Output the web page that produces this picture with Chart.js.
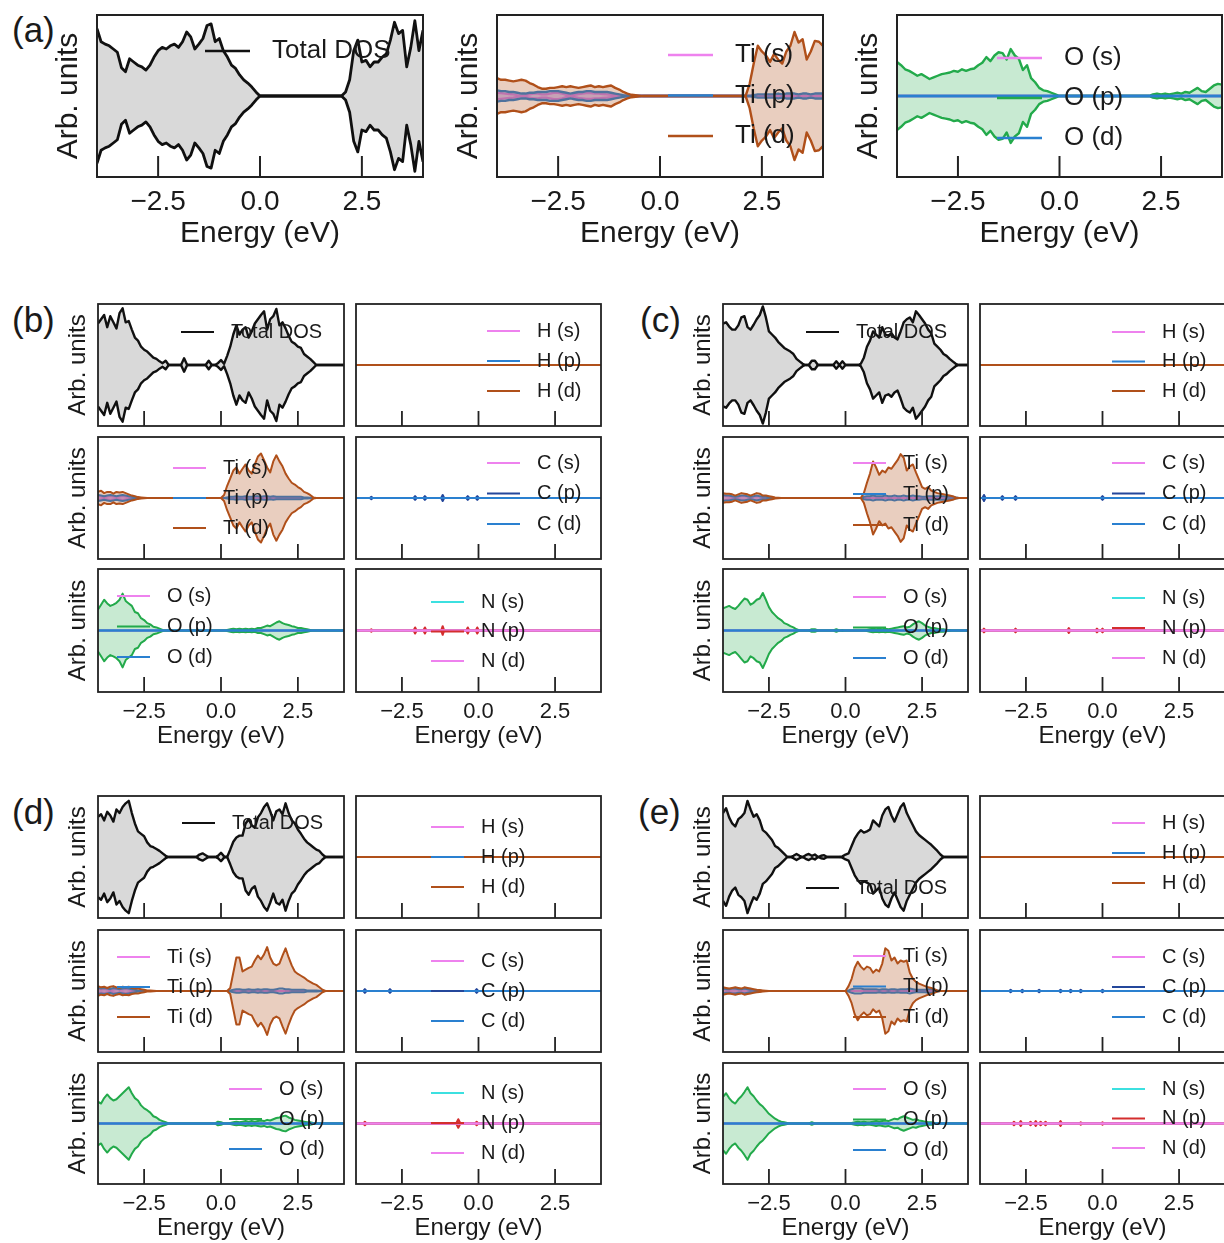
<!DOCTYPE html>
<html>
<head>
<meta charset="utf-8">
<script src="https://cdn.jsdelivr.net/npm/chart.js@4.4.1/dist/chart.umd.min.js"></script>
<style>
  body { margin: 0; width: 1224px; height: 1243px; position: relative; overflow: hidden; background: #fff;
         font-family: "Liberation Sans", Arial, Helvetica, sans-serif; }
  canvas { position: absolute; }
  .tag { position: absolute; font-size: 35px; line-height: 1; color: #1a1a1a; }
</style>
</head>
<body>
<div class="tag" style="left:12px;top:12px">(a)</div>
<div class="tag" style="left:12px;top:302px">(b)</div>
<div class="tag" style="left:640px;top:302px">(c)</div>
<div class="tag" style="left:12px;top:794px">(d)</div>
<div class="tag" style="left:638px;top:794px">(e)</div>
<script>
// ---------------- data (values as a fraction of the half-height of each panel) ----------------
const energy = [-4.0,-3.9,-3.8,-3.7,-3.6,-3.5,-3.4,-3.3,-3.2,-3.1,
  -3.0,-2.9,-2.8,-2.7,-2.6,-2.5,-2.4,-2.3,-2.2,-2.1,
  -2.0,-1.9,-1.8,-1.7,-1.6,-1.5,-1.4,-1.3,-1.2,-1.1,
  -1.0,-0.9,-0.8,-0.7,-0.6,-0.5,-0.4,-0.3,-0.2,-0.1,
  0.0,0.1,0.2,0.3,0.4,0.5,0.6,0.7,0.8,0.9,
  1.0,1.1,1.2,1.3,1.4,1.5,1.6,1.7,1.8,1.9,
  2.0,2.1,2.2,2.3,2.4,2.5,2.6,2.7,2.8,2.9,
  3.0,3.1,3.2,3.3,3.4,3.5,3.6,3.7,3.8,3.9,4.0];
const xTicks = [-2.5, 0, 2.5];
const xTickLabels = ['\u22122.5', '0.0', '2.5'];
const flat = [[-4, 0], [4, 0]];

// (a)
const aTotal = [0.83,0.67,0.64,0.62,0.58,0.54,0.35,0.30,0.46,0.42,
  0.38,0.36,0.32,0.38,0.48,0.56,0.60,0.58,0.62,0.64,
  0.60,0.67,0.79,0.73,0.58,0.64,0.71,0.87,0.89,0.67,
  0.71,0.56,0.48,0.38,0.34,0.26,0.20,0.16,0.11,0.05,
  0,0,0,0,0,0,0,0,0,0,
  0,0,0,0,0,0,0,0,0,0,
  0,0.05,0.20,0.56,0.69,0.42,0.44,0.36,0.42,0.42,
  0.48,0.52,0.69,0.91,0.77,0.81,0.36,0.60,0.93,0.56,0.81];
const aTiS = [0.04,0.035,0.03,0.025,0.02,0.01,0.005,0.01,0.02,0.03,
  0.03,0.02,0.02,0.03,0.04,0.04,0.03,0.015,0.005,0.015,
  0.025,0.03,0.035,0.035,0.03,0.03,0.025,0.02,0.015,0.01,
  0.005,0,0,0,0,0,0,0,0,0,
  0,0,0,0,0,0,0,0,0,0,
  0,0,0,0,0,0,0,0,0,0,
  0,0,0,0,0,0,0,0,0,0,
  0,0,0,0,0,0,0,0,0,0,0];
const aTiP = [0.07,0.06,0.06,0.05,0.05,0.04,0.03,0.03,0.04,0.04,
  0.05,0.05,0.05,0.06,0.06,0.06,0.05,0.04,0.03,0.04,
  0.05,0.05,0.06,0.06,0.05,0.05,0.05,0.05,0.04,0.03,
  0.02,0.01,0.005,0,0,0,0,0,0,0,
  0,0,0,0,0,0,0,0,0,0,
  0,0,0,0,0,0,0,0,0,0,
  0,0,0,0.01,0.02,0.02,0.02,0.02,0.02,0.03,
  0.02,0.03,0.03,0.03,0.02,0.03,0.03,0.02,0.03,0.03,0.03];
const aTiD = [0.22,0.20,0.20,0.19,0.18,0.19,0.20,0.19,0.16,0.14,
  0.11,0.09,0.09,0.10,0.10,0.11,0.12,0.11,0.12,0.11,
  0.10,0.11,0.12,0.13,0.11,0.12,0.11,0.12,0.13,0.10,
  0.08,0.05,0.03,0.015,0.01,0.005,0,0,0,0,
  0,0,0,0,0,0,0,0,0,0,
  0,0,0,0,0,0,0,0,0,0,
  0,0,0.15,0.40,0.62,0.55,0.50,0.42,0.52,0.45,
  0.40,0.55,0.62,0.79,0.66,0.70,0.45,0.55,0.68,0.67,0.62];
const aOP = [0.42,0.38,0.33,0.31,0.28,0.25,0.27,0.24,0.21,0.23,
  0.25,0.27,0.28,0.29,0.31,0.30,0.33,0.31,0.33,0.34,
  0.38,0.41,0.48,0.43,0.50,0.54,0.53,0.45,0.58,0.50,
  0.46,0.32,0.38,0.22,0.17,0.10,0.07,0.06,0.04,0.02,
  0,0,0,0,0,0,0,0,0,0,
  0,0,0,0,0,0,0,0,0,0,
  0,0,0,0.02,0.03,0.02,0.03,0.02,0.03,0.04,
  0.03,0.05,0.04,0.07,0.10,0.06,0.05,0.09,0.13,0.15,0.14];

// (b)
const bTotal = [0.68,0.75,0.82,0.62,0.80,0.70,0.60,0.85,0.93,0.70,
  0.72,0.58,0.45,0.40,0.30,0.25,0.22,0.17,0.12,0.10,
  0.06,0.03,0.07,0,0,0,0,0,0.11,0,
  0,0,0,0,0,0,0.07,0,0,0.03,
  0.08,0.02,0.15,0.30,0.50,0.65,0.50,0.58,0.62,0.45,
  0.55,0.68,0.75,0.82,0.88,0.58,0.75,0.80,0.92,0.65,
  0.70,0.60,0.48,0.38,0.35,0.30,0.28,0.18,0.14,0.10,
  0.05,0,0,0,0,0,0,0,0,0,0];
const bTiS = [0.03,0.02,0.01,0.02,0.03,0.02,0.01,0.02,0.03,0.02,
  0.01,0.005,0,0,0,0,0,0,0,0,
  0,0,0,0,0,0,0,0,0,0,
  0,0,0,0,0,0,0,0,0,0,
  0,0,0,0,0,0,0,0,0,0,
  0,0,0,0,0,0,0,0,0,0,
  0,0,0,0,0,0,0,0,0,0,
  0,0,0,0,0,0,0,0,0,0,0];
const bTiP = [0.05,0.04,0.03,0.04,0.05,0.04,0.03,0.04,0.05,0.04,
  0.03,0.02,0.01,0.005,0,0,0,0,0,0,
  0,0,0,0,0,0,0,0,0,0,
  0,0,0,0,0,0,0,0,0,0,
  0,0,0.01,0.02,0.02,0.03,0.02,0.02,0.03,0.02,
  0.02,0.03,0.03,0.02,0.03,0.03,0.02,0.03,0.02,0.02,
  0.02,0.02,0.02,0.02,0.02,0.02,0.02,0.01,0.01,0.005,
  0,0,0,0,0,0,0,0,0,0,0];
const bTiD = [0.10,0.12,0.08,0.10,0.10,0.07,0.10,0.09,0.10,0.08,
  0.06,0.04,0.03,0.015,0.01,0.005,0,0,0,0,
  0,0,0,0,0,0,0,0,0,0,
  0,0,0,0,0,0,0,0,0,0,
  0,0.05,0.20,0.32,0.45,0.50,0.40,0.48,0.55,0.45,
  0.40,0.55,0.68,0.73,0.62,0.50,0.42,0.60,0.70,0.60,
  0.52,0.40,0.32,0.25,0.22,0.18,0.15,0.10,0.08,0.05,
  0.01,0,0,0,0,0,0,0,0,0,0];
const bOP = [0.34,0.42,0.50,0.44,0.40,0.42,0.45,0.50,0.60,0.48,
  0.44,0.40,0.30,0.28,0.20,0.17,0.12,0.10,0.06,0.05,
  0.03,0.01,0,0,0,0,0,0,0,0,
  0,0,0,0,0,0,0,0,0,0,
  0,0,0.01,0.02,0.03,0.02,0.03,0.02,0.03,0.02,
  0.03,0.02,0.04,0.04,0.06,0.08,0.07,0.10,0.13,0.15,
  0.12,0.10,0.09,0.07,0.06,0.04,0.04,0.03,0.02,0.01,
  0,0,0,0,0,0,0,0,0,0,0];
const bCP = [[-4,0],[-3.55,0],[-3.5,0.02],[-3.45,0],[-2.12,0],[-2.07,0.03],[-2.02,0],[-1.8,0],[-1.75,0.03],[-1.7,0],
  [-1.22,0],[-1.17,0.05],[-1.12,0],[-0.4,0],[-0.35,0.03],[-0.3,0],[-0.09,0],[-0.04,0.03],[0.01,0],[4,0]];
const bNP = [[-4,0],[-3.55,0],[-3.5,0.02],[-3.45,0],[-2.12,0],[-2.07,0.05],[-2.02,0],[-1.8,0],[-1.75,0.05],[-1.7,0],
  [-1.22,0],[-1.17,0.07],[-1.12,0],[-0.4,0],[-0.35,0.05],[-0.3,0],[-0.09,0],[-0.04,0.05],[0.01,0],[4,0]];

// (c)
const cTotal = [0.68,0.70,0.63,0.58,0.58,0.65,0.78,0.80,0.62,0.58,
  0.66,0.75,0.82,0.96,0.78,0.55,0.50,0.45,0.38,0.33,
  0.28,0.25,0.22,0.18,0.10,0.06,0.02,0,0,0.07,
  0.07,0,0,0,0,0,0,0.06,0,0.06,
  0,0,0,0,0,0.02,0.12,0.30,0.40,0.55,
  0.50,0.45,0.62,0.50,0.48,0.52,0.45,0.42,0.55,0.70,
  0.75,0.78,0.70,0.88,0.82,0.75,0.68,0.58,0.52,0.35,
  0.30,0.25,0.18,0.15,0.10,0.06,0.02,0,0,0,0];
const cTiS = [0.03,0.025,0.02,0.015,0.01,0.015,0.025,0.025,0.02,0.01,
  0.02,0.025,0.02,0.01,0.01,0.005,0,0,0,0,
  0,0,0,0,0,0,0,0,0,0,
  0,0,0,0,0,0,0,0,0,0,
  0,0,0,0,0,0,0,0,0,0,
  0,0,0,0,0,0,0,0,0,0,
  0,0,0,0,0,0,0,0,0,0,
  0,0,0,0,0,0,0,0,0,0,0];
const cTiP = [0.05,0.04,0.04,0.03,0.02,0.03,0.04,0.04,0.03,0.02,
  0.03,0.04,0.03,0.02,0.02,0.01,0.005,0,0,0,
  0,0,0,0,0,0,0,0,0,0,
  0,0,0,0,0,0,0,0,0,0,
  0,0,0,0,0,0,0.02,0.03,0.03,0.04,
  0.03,0.03,0.03,0.04,0.03,0.03,0.04,0.03,0.03,0.04,
  0.03,0.03,0.04,0.03,0.03,0.02,0.02,0.03,0.03,0.03,
  0.03,0.03,0.03,0.02,0.02,0.02,0.01,0,0,0,0];
const cTiD = [0.08,0.07,0.07,0.06,0.04,0.06,0.08,0.07,0.06,0.04,
  0.06,0.08,0.07,0.04,0.04,0.03,0.02,0.01,0.005,0,
  0,0,0,0,0,0,0,0,0,0,
  0,0,0,0,0,0,0,0,0,0,
  0,0,0,0,0,0,0.08,0.25,0.40,0.60,
  0.50,0.38,0.45,0.42,0.50,0.48,0.55,0.62,0.72,0.66,
  0.45,0.52,0.55,0.42,0.30,0.18,0.15,0.18,0.12,0.10,
  0.08,0.07,0.06,0.05,0.04,0.03,0.01,0,0,0,0];
const cOP = [0.36,0.38,0.40,0.37,0.35,0.40,0.46,0.52,0.50,0.42,
  0.45,0.50,0.52,0.61,0.50,0.38,0.30,0.25,0.20,0.17,
  0.12,0.10,0.07,0.05,0.02,0,0,0,0,0.02,
  0.02,0,0,0,0,0,0,0.02,0,0.01,
  0,0,0,0,0,0,0,0.01,0.02,0.03,
  0.02,0.03,0.02,0.03,0.02,0.03,0.04,0.05,0.06,0.07,
  0.05,0.06,0.10,0.13,0.15,0.12,0.08,0.06,0.04,0.04,
  0.03,0.02,0.02,0.01,0.01,0,0,0,0,0,0];
const cCP = [[-4,0],[-3.92,0],[-3.87,0.05],[-3.82,0],[-3.32,0],[-3.27,0.03],[-3.22,0],[-2.89,0],[-2.84,0.03],[-2.79,0],
  [-0.05,0],[0,0.03],[0.05,0],[4,0]];
const cNP = [[-4,0],[-3.92,0],[-3.87,0.03],[-3.82,0],[-2.89,0],[-2.84,0.03],[-2.79,0],[-1.15,0],[-1.1,0.04],[-1.05,0],
  [-0.23,0],[-0.18,0.03],[-0.13,0],[-0.05,0],[0,0.03],[0.05,0],[4,0]];

// (d)
const dTotal = [0.66,0.70,0.60,0.74,0.68,0.58,0.78,0.72,0.82,0.88,
  0.92,0.72,0.55,0.42,0.38,0.34,0.24,0.18,0.16,0.13,
  0.10,0.06,0.02,0,0,0,0,0,0,0,
  0,0,0,0.04,0.06,0.03,0,0,0,0.02,
  0.07,0.01,0,0.12,0.25,0.32,0.35,0.35,0.55,0.62,
  0.52,0.48,0.65,0.72,0.82,0.88,0.75,0.60,0.75,0.78,
  0.70,0.88,0.72,0.60,0.55,0.45,0.38,0.30,0.24,0.20,
  0.16,0.12,0.10,0.04,0,0,0,0,0,0,0];
const dTiS = [0.03,0.02,0.03,0.02,0.01,0.02,0.03,0.02,0.02,0.03,
  0.02,0.01,0.005,0,0,0,0,0,0,0,
  0,0,0,0,0,0,0,0,0,0,
  0,0,0,0,0,0,0,0,0,0,
  0,0,0,0,0,0,0,0,0,0,
  0,0,0,0,0,0,0,0,0,0,
  0,0,0,0,0,0,0,0,0,0,
  0,0,0,0,0,0,0,0,0,0,0];
const dTiP = [0.05,0.04,0.05,0.04,0.03,0.05,0.04,0.03,0.04,0.05,
  0.04,0.03,0.02,0.01,0.005,0,0,0,0,0,
  0,0,0,0,0,0,0,0,0,0,
  0,0,0,0,0,0,0,0,0,0,
  0,0,0,0.01,0.02,0.03,0.03,0.02,0.02,0.03,
  0.02,0.02,0.03,0.02,0.03,0.03,0.02,0.02,0.03,0.04,
  0.04,0.03,0.03,0.02,0.02,0.02,0.02,0.02,0.01,0.01,
  0.01,0.01,0.005,0,0,0,0,0,0,0,0];
const dTiD = [0.08,0.06,0.07,0.05,0.07,0.08,0.06,0.05,0.07,0.06,
  0.07,0.05,0.04,0.04,0.03,0.02,0.01,0.01,0.005,0,
  0,0,0,0,0,0,0,0,0,0,
  0,0,0,0,0,0,0,0,0,0,
  0,0,0,0.05,0.30,0.55,0.55,0.32,0.35,0.38,
  0.40,0.50,0.58,0.52,0.60,0.72,0.55,0.45,0.42,0.45,
  0.58,0.70,0.55,0.42,0.32,0.28,0.25,0.22,0.18,0.15,
  0.12,0.10,0.06,0.02,0,0,0,0,0,0,0];
const dOP = [0.36,0.33,0.42,0.48,0.42,0.38,0.40,0.45,0.50,0.55,
  0.60,0.50,0.42,0.38,0.30,0.25,0.22,0.18,0.12,0.10,
  0.06,0.04,0.02,0,0,0,0,0,0,0,
  0,0,0,0,0,0,0,0,0,0.03,
  0.02,0,0,0.01,0.02,0.03,0.02,0.03,0.04,0.03,
  0.04,0.03,0.04,0.05,0.04,0.06,0.05,0.07,0.09,0.10,
  0.12,0.13,0.10,0.08,0.06,0.05,0.04,0.03,0.02,0.02,
  0.01,0,0,0,0,0,0,0,0,0,0];
const dCP = [[-4,0],[-3.76,0],[-3.71,0.03],[-3.66,0],[-2.94,0],[-2.89,0.03],[-2.84,0],[-0.11,0],[-0.06,0.03],[-0.01,0],[4,0]];
const dNP = [[-4,0],[-3.76,0],[-3.71,0.03],[-3.66,0],[-0.73,0],[-0.66,0.07],[-0.59,0],[-0.11,0],[-0.06,0.03],[-0.01,0],[4,0]];

// (e)
const eTotal = [0.72,0.80,0.65,0.55,0.50,0.62,0.66,0.72,0.92,0.78,
  0.66,0.70,0.60,0.44,0.40,0.34,0.28,0.18,0.15,0.10,
  0.05,0,0,0.02,0.05,0.02,0,0.03,0.05,0.02,
  0.04,0,0.02,0.03,0,0,0,0,0,0.01,
  0.04,0.06,0.18,0.30,0.38,0.44,0.40,0.42,0.45,0.60,
  0.55,0.50,0.68,0.78,0.82,0.68,0.58,0.70,0.82,0.88,
  0.72,0.62,0.52,0.42,0.36,0.32,0.28,0.24,0.20,0.15,
  0.10,0.04,0,0,0,0,0,0,0,0,0];
const eTiS = [0.025,0.02,0.015,0.02,0.025,0.02,0.015,0.02,0.02,0.01,
  0.01,0.005,0,0,0,0,0,0,0,0,
  0,0,0,0,0,0,0,0,0,0,
  0,0,0,0,0,0,0,0,0,0,
  0,0,0,0,0,0,0,0,0,0,
  0,0,0,0,0,0,0,0,0,0,
  0,0,0,0,0,0,0,0,0,0,
  0,0,0,0,0,0,0,0,0,0,0];
const eTiP = [0.04,0.03,0.03,0.04,0.04,0.03,0.03,0.04,0.03,0.02,
  0.02,0.01,0.005,0,0,0,0,0,0,0,
  0,0,0,0,0,0,0,0,0,0,
  0,0,0,0,0,0,0,0,0,0,
  0,0.01,0.03,0.04,0.04,0.04,0.03,0.03,0.03,0.03,
  0.03,0.02,0.03,0.03,0.02,0.03,0.03,0.02,0.03,0.03,
  0.03,0.04,0.03,0.02,0.02,0.02,0.02,0.03,0.03,0.02,
  0.01,0,0,0,0,0,0,0,0,0,0];
const eTiD = [0.06,0.05,0.04,0.05,0.06,0.05,0.04,0.06,0.05,0.04,
  0.03,0.02,0.015,0.01,0.005,0,0,0,0,0,
  0,0,0,0,0,0,0,0,0,0,
  0,0,0,0,0,0,0,0,0,0,
  0,0.08,0.20,0.38,0.48,0.40,0.35,0.40,0.38,0.30,
  0.35,0.32,0.45,0.70,0.66,0.50,0.55,0.45,0.50,0.48,
  0.50,0.30,0.20,0.15,0.12,0.10,0.08,0.06,0.05,0.03,
  0.01,0,0,0,0,0,0,0,0,0,0];
const eOP = [0.44,0.50,0.42,0.36,0.33,0.40,0.45,0.52,0.60,0.50,
  0.45,0.38,0.32,0.28,0.22,0.16,0.12,0.08,0.05,0.03,
  0.02,0.01,0,0,0,0,0,0,0,0.02,
  0,0,0,0,0,0,0,0,0,0,
  0,0,0.01,0.02,0.03,0.02,0.03,0.02,0.02,0.03,
  0.04,0.03,0.04,0.05,0.04,0.06,0.08,0.07,0.10,0.12,
  0.10,0.08,0.06,0.07,0.05,0.04,0.03,0.02,0.02,0.01,
  0,0,0,0,0,0,0,0,0,0,0];
const eCP = [[-4,0],[-3.05,0],[-3.0,0.02],[-2.95,0],[-2.67,0],[-2.62,0.02],[-2.57,0],[-2.12,0],[-2.07,0.02],[-2.02,0],
  [-1.42,0],[-1.37,0.02],[-1.32,0],[-1.09,0],[-1.04,0.02],[-0.99,0],[-0.76,0],[-0.71,0.02],[-0.66,0],
  [-0.05,0],[0,0.02],[0.05,0],[4,0]];
const eNP = [[-4,0],[-2.94,0],[-2.89,0.03],[-2.84,0],[-2.72,0],[-2.67,0.04],[-2.62,0],[-2.4,0],[-2.35,0.03],[-2.3,0],
  [-2.23,0],[-2.18,0.04],[-2.13,0],[-2.07,0],[-2.02,0.03],[-1.97,0],[-1.91,0],[-1.86,0.03],[-1.81,0],
  [-1.42,0],[-1.37,0.04],[-1.32,0],[-0.76,0],[-0.71,0.02],[-0.66,0],[-0.05,0],[0,0.02],[0.05,0],[4,0]];

// ---------------- styles ----------------
const P = {
  total: '#111111', totalFill: 'rgba(0,0,0,0.15)',
  violet: '#ee82ee', violetFill: 'rgba(238,130,238,0.35)',
  blue: '#2a80d0', blueFill: 'rgba(42,128,208,0.2)',
  navy: '#24479b', navyFill: 'rgba(36,71,155,0.3)',
  brown: '#b0501a', brownFill: 'rgba(176,80,26,0.28)',
  green: '#23aa4b', greenFill: 'rgba(35,170,75,0.25)',
  cyan: '#3ce0e0', cyanFill: 'rgba(60,224,224,0.3)',
  red: '#d42e2e', redFill: 'rgba(212,46,46,0.3)'
};
const styles = {
  big:   {tick: 28, title: 30, legend: 26, tickGap: 25.5, titleGap: 57, yGap: 28.5, tickLen: 21, handle: 45, gap: 22, wTotal: 2.8, w: 2.4, frame: 2},
  small: {tick: 22, title: 24, legend: 20, tickGap: 20, titleGap: 44, yGap: 20, tickLen: 15, handle: 33, gap: 17, wTotal: 2.4, w: 2, frame: 1.8}
};

Chart.defaults.font.family = '"Liberation Sans", Arial, Helvetica, sans-serif';
Chart.defaults.color = '#1a1a1a';

// ---------------- series builders ----------------
function onGrid(vals) {
    return vals.map((v, i) => [energy[i], v]);
}

// one orbital: the upper curve, its mirror below zero and the fill between them
function band(label, line, fill, pairs, w, rank) {
    return [
        {label, rank, data: pairs.map((p) => ({x: p[0], y: p[1]})), borderColor: line, backgroundColor: fill, borderWidth: w, fill: '+1'},
        {label: '', data: pairs.map((p) => ({x: p[0], y: -p[1]})), borderColor: line, borderWidth: w, fill: false}
    ];
}

// entries are given in legend order; Chart.js paints dataset 0 last, so the last entry ends up on top
function stack(entries, w) {
    const out = [];
    for (let k = entries.length - 1; k >= 0; k--) {
        const [label, line, fill, pairs] = entries[k];
        out.push(...band(label, line, fill, pairs, w, k));
    }
    return out;
}

const totalSet = (vals, st) => stack([['Total DOS', P.total, P.totalFill, onGrid(vals)]], st.wTotal);
const tiSet = (s, p, d, st) => stack([
    ['Ti (s)', P.violet, P.violetFill, onGrid(s)],
    ['Ti (p)', P.blue, P.blueFill, onGrid(p)],
    ['Ti (d)', P.brown, P.brownFill, onGrid(d)]], st.w);
const oSet = (p, st) => stack([
    ['O (s)', P.violet, P.violetFill, flat],
    ['O (p)', P.green, P.greenFill, onGrid(p)],
    ['O (d)', P.blue, P.blueFill, flat]], st.w);
const hSet = (st) => stack([
    ['H (s)', P.violet, P.violetFill, flat],
    ['H (p)', P.blue, P.blueFill, flat],
    ['H (d)', P.brown, P.brownFill, flat]], st.w);
const cSet = (p, st) => stack([
    ['C (s)', P.violet, P.violetFill, flat],
    ['C (p)', P.navy, P.navyFill, p],
    ['C (d)', P.blue, P.blueFill, flat]], st.w);
const nSet = (p, st) => stack([
    ['N (s)', P.cyan, P.cyanFill, flat],
    ['N (p)', P.red, P.redFill, p],
    ['N (d)', P.violet, P.violetFill, flat]], st.w);

// ---------------- plugins ----------------
// box around the plot and matplotlib style inward ticks on the bottom edge
const frame = {
    id: 'frame',
    afterDraw(chart, args, o) {
        const {ctx, chartArea: a, scales: {x}} = chart;
        ctx.save();
        ctx.strokeStyle = '#222';
        ctx.lineWidth = o.lw;
        x.ticks.forEach((t) => {
            const px = x.getPixelForValue(t.value);
            ctx.beginPath();
            ctx.moveTo(px, a.bottom);
            ctx.lineTo(px, a.bottom - o.len);
            ctx.stroke();
        });
        ctx.strokeRect(a.left, a.top, a.right - a.left, a.bottom - a.top);
        ctx.restore();
    }
};

// frameless legend placed inside the plot
const inlineLegend = {
    id: 'inlineLegend',
    afterDraw(chart, args, o) {
        const {ctx, chartArea: a} = chart;
        const items = chart.data.datasets.filter((d) => d.rank !== undefined).sort((p, q) => p.rank - q.rank);
        ctx.save();
        ctx.font = o.font + 'px "Liberation Sans", Arial, sans-serif';
        ctx.textBaseline = 'middle';
        items.forEach((d, k) => {
            const y = a.top + o.y + k * o.row;
            const x0 = a.left + o.x;
            ctx.strokeStyle = d.borderColor;
            ctx.lineWidth = o.lw;
            ctx.beginPath();
            ctx.moveTo(x0, y);
            ctx.lineTo(x0 + o.len, y);
            ctx.stroke();
            ctx.fillStyle = '#1a1a1a';
            ctx.fillText(d.label, x0 + o.len + o.gap, y);
        });
        ctx.restore();
    }
};

// ---------------- layout ----------------
function panelGrid(cols, rows, d, leg) {
    const kinds = [
        (st) => totalSet(d.total, st), (st) => hSet(st),
        (st) => tiSet(d.tiS, d.tiP, d.tiD, st), (st) => cSet(d.cP, st),
        (st) => oSet(d.oP, st), (st) => nSet(d.nP, st)
    ];
    const list = [];
    for (let r = 0; r < 3; r++) {
        for (let c = 0; c < 2; c++) {
            list.push({
                box: [cols[c][0], rows[r][0], cols[c][1], rows[r][1]], size: 'small',
                yTitle: c === 0, xLabels: r === 2, legend: leg[r * 2 + c], series: kinds[r * 2 + c]
            });
        }
    }
    return list;
}

const colsLeft = [[98, 344], [356, 601]];
const colsRight = [[723, 968], [980, 1225]];
const rowsUpper = [[304, 426], [437, 559], [569, 692]];
const rowsLower = [[796, 918], [930, 1052], [1063, 1184]];

const subplots = [
    {box: [97, 15, 423, 177], size: 'big', yTitle: true, xLabels: true, legend: [108, 36, 40], series: (st) => totalSet(aTotal, st)},
    {box: [497, 15, 823, 177], size: 'big', yTitle: true, xLabels: true, legend: [171, 40, 40.5], series: (st) => tiSet(aTiS, aTiP, aTiD, st)},
    {box: [897, 15, 1222, 177], size: 'big', yTitle: true, xLabels: true, legend: [100, 43, 40], series: (st) => oSet(aOP, st)},
    ...panelGrid(colsLeft, rowsUpper, {total: bTotal, tiS: bTiS, tiP: bTiP, tiD: bTiD, oP: bOP, cP: bCP, nP: bNP},
        [[83, 28], [131, 27, 30], [75, 31, 30], [131, 26, 30.5], [19, 27, 30.5], [75, 33, 29.5]]),
    ...panelGrid(colsRight, rowsUpper, {total: cTotal, tiS: cTiS, tiP: cTiP, tiD: cTiD, oP: cOP, cP: cCP, nP: cNP},
        [[83, 28], [132, 28, 29.5], [130, 26, 31], [132, 26, 30.5], [130, 28, 30.5], [132, 29, 30]]),
    ...panelGrid(colsLeft, rowsLower, {total: dTotal, tiS: dTiS, tiP: dTiP, tiD: dTiD, oP: dOP, cP: dCP, nP: dNP},
        [[84, 27], [75, 31, 30], [19, 27, 30], [75, 31, 30], [131, 26, 30], [75, 30, 30]]),
    ...panelGrid(colsRight, rowsLower, {total: eTotal, tiS: eTiS, tiP: eTiP, tiD: eTiD, oP: eOP, cP: eCP, nP: eNP},
        [[83, 92], [132, 27, 30], [130, 26, 30.5], [132, 27, 30], [130, 26, 30.5], [132, 26, 29.5]])
];

function makeChart(sp) {
    const st = styles[sp.size];
    const [l, t, r, b] = sp.box;
    const titleLH = st.title * 1.2;
    const tickLH = st.tick * 1.2;
    const padL = sp.yTitle ? Math.ceil(st.yGap + titleLH / 2) + 2 : 2;
    const padB = sp.xLabels ? Math.ceil(st.titleGap + titleLH / 2) + 2 : 2;
    const padT = 2, padR = 2;

    const cv = document.createElement('canvas');
    cv.width = r - l + padL + padR;
    cv.height = b - t + padT + padB;
    cv.style.left = (l - padL) + 'px';
    cv.style.top = (t - padT) + 'px';
    document.body.appendChild(cv);

    new Chart(cv, {
        type: 'line',
        data: {datasets: sp.series(st)},
        options: {
            responsive: false,
            animation: false,
            events: [],
            layout: {padding: {left: 0, top: padT, right: padR, bottom: 0}},
            elements: {point: {radius: 0}, line: {tension: 0, borderJoinStyle: 'round'}},
            plugins: {
                legend: {display: false},
                tooltip: {enabled: false},
                frame: {lw: st.frame, len: st.tickLen},
                inlineLegend: {x: sp.legend[0], y: sp.legend[1], row: sp.legend[2] || 30, font: st.legend, len: st.handle, gap: st.gap, lw: st.w + 0.2}
            },
            scales: {
                x: {
                    type: 'linear', min: -4, max: 4,
                    afterBuildTicks: (s) => { s.ticks = xTicks.map((v) => ({value: v})); },
                    afterFit: (s) => { s.height = padB; },
                    grid: {display: false, drawTicks: false},
                    border: {display: false},
                    ticks: {display: sp.xLabels, font: {size: st.tick}, padding: st.tickGap - tickLH / 2, maxRotation: 0,
                        callback: (v, i) => xTickLabels[i]},
                    title: {display: sp.xLabels, text: 'Energy (eV)', font: {size: st.title},
                        padding: {top: 0, bottom: padB - st.titleGap - titleLH / 2}}
                },
                y: {
                    type: 'linear', min: -1, max: 1,
                    afterFit: (s) => { s.width = padL; },
                    grid: {display: false, drawTicks: false},
                    border: {display: false},
                    ticks: {display: false},
                    title: {display: sp.yTitle, text: 'Arb. units', font: {size: st.title},
                        padding: {top: padL - st.yGap - titleLH / 2, bottom: 0}}
                }
            }
        },
        plugins: [frame, inlineLegend]
    });
}

subplots.forEach(makeChart);
</script>
</body>
</html>
